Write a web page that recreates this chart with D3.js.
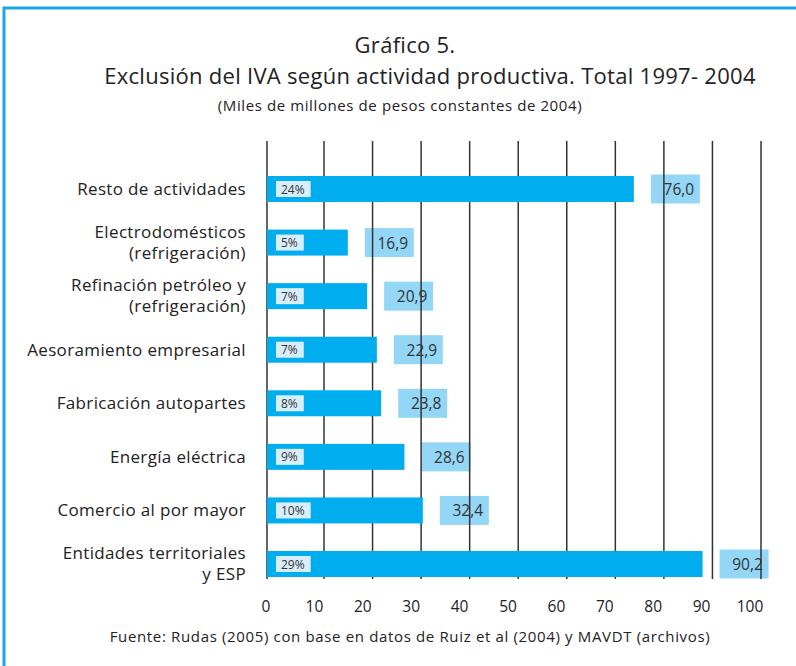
<!DOCTYPE html>
<html>
<head>
<meta charset="utf-8">
<script src="https://cdn.jsdelivr.net/npm/d3@7"></script>
<style>
  body { margin: 0; background: #fff; }
  svg { display: block; font-family: "Open Sans", Lato, sans-serif; }
</style>
</head>
<body>
<div id="chart"></div>
<script>
const categories = [
  ["Resto de actividades"],
  ["Electrodomésticos", "(refrigeración)"],
  ["Refinación petróleo y", "(refrigeración)"],
  ["Aesoramiento empresarial"],
  ["Fabricación autopartes"],
  ["Energía eléctrica"],
  ["Comercio al por mayor"],
  ["Entidades territoriales", "y ESP"]
]
const values = [76.0, 16.9, 20.9, 22.9, 23.8, 28.6, 32.4, 90.2]
const shares = ["24%", "5%", "7%", "7%", "8%", "9%", "10%", "29%"]
const tickValues = [0, 10, 20, 30, 40, 50, 60, 70, 80, 90, 100]

const width = 796, height = 666

const svg = d3.select("#chart").append("svg")
  .attr("width", width)
  .attr("height", height)

// frame
svg.append("rect")
  .attr("x", 4).attr("y", 8)
  .attr("width", width + 10).attr("height", height + 10)
  .attr("fill", "none")
  .attr("stroke", "#1ea5e2")
  .attr("stroke-width", 3)

// titles
svg.append("text").attr("x", 405).attr("y", 53)
  .attr("text-anchor", "middle").attr("font-size", 22).attr("fill", "#222")
  .attr("letter-spacing", 0.28)
  .text("Gráfico 5.")
svg.append("text").attr("x", 430).attr("y", 84)
  .attr("text-anchor", "middle").attr("font-size", 22).attr("fill", "#222")
  .attr("letter-spacing", 0.28)
  .text("Exclusión del IVA según actividad productiva. Total 1997- 2004")
svg.append("text").attr("x", 400).attr("y", 111)
  .attr("text-anchor", "middle").attr("font-size", 15).attr("fill", "#222")
  .attr("letter-spacing", 0.6)
  .text("(Miles de millones de pesos constantes de 2004)")

const x = d3.scaleLinear().domain([0, 100]).range([266, 750])
// the gridlines in the original are not aligned with the tick labels
const xGrid = d3.scaleLinear().domain([10, 100]).range([324, 761])

// bar centres
const y = d3.scalePoint()
  .domain(d3.range(categories.length))
  .range([189, 564])
const barH = 26

const gridTop = 141, gridBottom = 579

// value boxes (drawn under the gridlines)
svg.append("g").selectAll("rect")
  .data(values)
  .join("rect")
    .attr("x", d => x(d) + 17)
    .attr("y", (d, i) => y(i) - 14.5)
    .attr("width", 49)
    .attr("height", 29)
    .attr("fill", "#93d6f6")

// gridlines
svg.append("g").selectAll("line")
  .data(tickValues.slice(1))
  .join("line")
    .attr("x1", d => xGrid(d)).attr("x2", d => xGrid(d))
    .attr("y1", gridTop).attr("y2", gridBottom)
    .attr("stroke", "#333")
    .attr("stroke-width", 1.5)
svg.append("line")
  .attr("x1", x(0) + 1).attr("x2", x(0) + 1)
  .attr("y1", gridTop).attr("y2", gridBottom)
  .attr("stroke", "#333").attr("stroke-width", 1.5)

// bars
svg.append("g").selectAll("rect")
  .data(values)
  .join("rect")
    .attr("x", x(0) + 1)
    .attr("y", (d, i) => y(i) - barH / 2)
    .attr("width", d => x(d) - x(0) - 1)
    .attr("height", barH)
    .attr("fill", "#00adef")

// value labels
svg.append("g").selectAll("text")
  .data(values)
  .join("text")
    .attr("x", d => x(d) + 17 + 28)
    .attr("y", (d, i) => y(i) + 6)
    .attr("text-anchor", "middle")
    .attr("font-size", 15.5)
    .attr("fill", "#333")
    .text(d => d3.format(".1f")(d).replace(".", ","))

// share labels inside bars
const shareG = svg.append("g").selectAll("g")
  .data(shares)
  .join("g")
    .attr("transform", (d, i) => `translate(276,${y(i)})`)
shareG.append("text")
  .attr("x", 5)
  .attr("y", 4.5)
  .attr("font-size", 12)
  .attr("fill", "#333")
  .text(d => d)
shareG.insert("rect", "text")
  .attr("x", 0)
  .attr("y", -8)
  .attr("height", 16)
  .attr("width", function() {
    return this.parentNode.querySelector("text").getComputedTextLength() + 11
  })
  .attr("fill", "#d9eefb")

// category labels
const catG = svg.append("g").selectAll("text")
  .data(categories)
  .join("text")
    .attr("text-anchor", "end")
    .attr("font-size", 17)
    .attr("letter-spacing", 0.35)
    .attr("fill", "#222")
    .attr("transform", (d, i) => `translate(246,${y(i)})`)
catG.selectAll("tspan")
  .data(d => d.map((t, k) => ({ t, k, n: d.length })))
  .join("tspan")
    .attr("x", 0)
    .attr("y", d => d.n === 1 ? 6 : (d.k === 0 ? -5 : 16))
    .text(d => d.t)

// x axis labels
svg.append("g").selectAll("text")
  .data(tickValues)
  .join("text")
    .attr("x", d => x(d))
    .attr("y", 612)
    .attr("text-anchor", "middle")
    .attr("font-size", 15.5)
    .attr("fill", "#222")
    .text(d => d)

// source
svg.append("text").attr("x", 410).attr("y", 642)
  .attr("text-anchor", "middle").attr("font-size", 15).attr("fill", "#222")
  .attr("letter-spacing", 0.65)
  .text("Fuente: Rudas (2005) con base en datos de Ruiz et al (2004) y MAVDT (archivos)")
</script>
</body>
</html>
